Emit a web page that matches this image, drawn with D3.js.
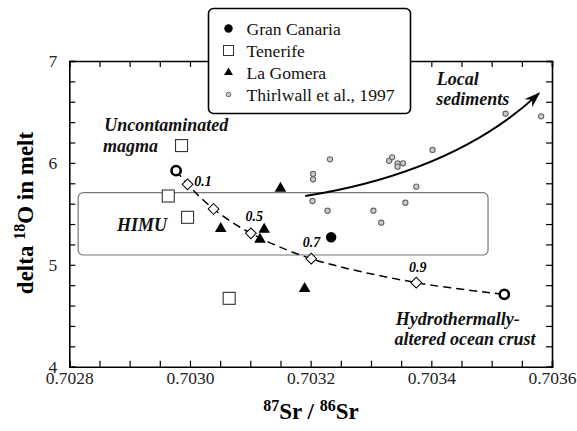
<!DOCTYPE html>
<html lang="en">
<head>
    <meta charset="UTF-8">
    <title>delta 18O vs 87Sr/86Sr</title>
    <style>
        body { margin: 0; background: #fff; }
    </style>
</head>
<body>
    <script src="https://cdnjs.cloudflare.com/ajax/libs/d3/7.8.2/d3.min.js"></script>
    <script>

        // data
        const granCanaria = [
            {sr : 0.703234, o : 5.27}
        ]
        const tenerife = [
            {sr : 0.702986, o : 6.17},
            {sr : 0.702964, o : 5.675},
            {sr : 0.702996, o : 5.466},
            {sr : 0.703065, o : 4.671}
        ]
        const laGomera = [
            {sr : 0.703150, o : 5.75},
            {sr : 0.703051, o : 5.355},
            {sr : 0.703123, o : 5.348},
            {sr : 0.703116, o : 5.25},
            {sr : 0.703190, o : 4.766}
        ]
        const thirlwall = [
            {sr : 0.703204, o : 5.891},
            {sr : 0.703204, o : 5.839},
            {sr : 0.703232, o : 6.035},
            {sr : 0.703203, o : 5.626},
            {sr : 0.703228, o : 5.531},
            {sr : 0.703304, o : 5.531},
            {sr : 0.703317, o : 5.413},
            {sr : 0.703357, o : 5.609},
            {sr : 0.703375, o : 5.767},
            {sr : 0.703402, o : 6.127},
            {sr : 0.703330, o : 6.02},
            {sr : 0.703335, o : 6.055},
            {sr : 0.703344, o : 5.996},
            {sr : 0.703344, o : 5.963},
            {sr : 0.703353, o : 5.996},
            {sr : 0.703523, o : 6.483},
            {sr : 0.703582, o : 6.457}
        ]
        // mixing curve: end-members and mixing steps
        const endMembers = [
            {sr : 0.702977, o : 5.924},
            {sr : 0.703521, o : 4.710}
        ]
        const mixFractions = [0.1, 0.3, 0.5, 0.7, 0.9]
        const mixSr = [0.702996, 0.703039, 0.703101, 0.703201, 0.703375]
        const mixO = [5.79, 5.548, 5.309, 5.06, 4.825]
        const mixLabels = ["0.1", "", "0.5", "0.7", "0.9"]
        const mixLabelPos = [
            {sr : 0.703007, o : 5.773},
            null,
            {sr : 0.703092, o : 5.433},
            {sr : 0.703187, o : 5.172},
            {sr : 0.703363, o : 4.932}
        ]
        // HIMU field and sediment arrow
        const himu = {sr0 : 0.7028147, sr1 : 0.703494, o0 : 5.096, o1 : 5.708}
        const sedArrow = [
            {sr : 0.703191, o : 5.675},
            {sr : 0.703439, o : 5.911},
            {sr : 0.703578, o : 6.68}
        ]

        const xTickMajor = [0.7028, 0.7030, 0.7032, 0.7034, 0.7036]
        const yTickMajor = [4, 5, 6, 7]

        const legendItems = ["Gran Canaria", "Tenerife", "La Gomera", "Thirlwall et al., 1997"]

        const serif = '"Liberation Serif"'

        const w = 577
        const h = 431

        const svg = d3.select("body")
            .append("svg")
                .attr("width", w)
                .attr("height", h)

        const x = d3.scaleLinear()
            .domain([0.7028, 0.7036])
            .range([69.3, 552])

        const y = d3.scaleLinear()
            .domain([4, 7])
            .range([366.7, 61])

        const xTicks = d3.range(0, 17).map(i => 0.7028 + i * 0.00005)
        const yTicks = d3.range(0, 16).map(i => 4 + i * 0.2)

        const isMajorX = v => xTickMajor.some(m => Math.abs(m - v) < 1e-8)
        const isMajorY = v => yTickMajor.some(m => Math.abs(m - v) < 1e-8)

        // axes, ticks pointing inward on all four sides
        svg.append("g")
            .attr("transform", `translate(0,${y(4)})`)
            .call(d3.axisBottom(x).tickValues(xTicks).tickSize(-6).tickPadding(5)
                .tickFormat(d => isMajorX(d) ? d3.format(".4f")(d) : ""))
        svg.append("g")
            .attr("transform", `translate(0,${y(7)})`)
            .call(d3.axisTop(x).tickValues(xTicks).tickSize(-6).tickFormat(""))
        svg.append("g")
            .attr("transform", `translate(${x(0.7028)},0)`)
            .call(d3.axisLeft(y).tickValues(yTicks).tickSize(-6).tickPadding(12)
                .tickFormat(d => isMajorY(d) ? d3.format("d")(d) : ""))
        svg.append("g")
            .attr("transform", `translate(${x(0.7036)},0)`)
            .call(d3.axisRight(y).tickValues(yTicks).tickSize(-6).tickFormat(""))

        svg.selectAll(".domain").attr("stroke", "#000").attr("stroke-width", 1.6)
        svg.selectAll(".tick line").attr("stroke", "#000").attr("stroke-width", 1.2)
        svg.selectAll(".tick text")
            .style("font-family", serif)
            .attr("font-size", 17.5)
            .attr("fill", "#222")

        // HIMU field
        svg.append("rect")
            .attr("x", x(himu.sr0))
            .attr("y", y(himu.o1))
            .attr("width", x(himu.sr1) - x(himu.sr0))
            .attr("height", y(himu.o0) - y(himu.o1))
            .attr("rx", 5)
            .attr("fill", "none")
            .attr("stroke", "#777")
            .attr("stroke-width", 1.2)

        // arrow marker
        svg.append("defs").append("marker")
            .attr("id", "arr")
            .attr("viewBox", "0 -6 16 12")
            .attr("refX", 14)
            .attr("refY", 0)
            .attr("markerWidth", 16)
            .attr("markerHeight", 12)
            .attr("markerUnits", "userSpaceOnUse")
            .attr("orient", "auto")
            .append("path")
                .attr("d", "M0,-5.5 L16,0 L0,5.5 L5,0 Z")
                .attr("fill", "#000")

        const pa = sedArrow.map(d => [x(d.sr), y(d.o)])
        svg.append("path")
            .attr("d", `M${pa[0]} Q${pa[1]} ${pa[2]}`)
            .attr("fill", "none")
            .attr("stroke", "#000")
            .attr("stroke-width", 2)
            .attr("marker-end", "url(#arr)")

        // mixing curve
        const mixPts = [endMembers[0]]
            .concat(mixSr.map((s, i) => ({sr : s, o : mixO[i]})))
            .concat([endMembers[1]])

        svg.append("path")
            .datum(mixPts)
            .attr("d", d3.line().x(d => x(d.sr)).y(d => y(d.o)).curve(d3.curveCatmullRom))
            .attr("fill", "none")
            .attr("stroke", "#000")
            .attr("stroke-width", 1.5)
            .attr("stroke-dasharray", "8,5")

        // Thirlwall et al.
        svg.selectAll(".thirl")
            .data(thirlwall)
            .enter()
            .append("circle")
                .attr("class", "thirl")
                .attr("cx", d => x(d.sr))
                .attr("cy", d => y(d.o))
                .attr("r", 2.6)
                .attr("fill", "#ccc")
                .attr("stroke", "#666")
                .attr("stroke-width", 1.1)

        const tri = d3.symbol().type(d3.symbolTriangle)

        svg.selectAll(".gom")
            .data(laGomera)
            .enter()
            .append("path")
                .attr("class", "gom")
                .attr("transform", d => `translate(${x(d.sr)},${y(d.o)})`)
                .attr("d", tri.size(58))
                .attr("fill", "#000")

        svg.selectAll(".ten")
            .data(tenerife)
            .enter()
            .append("rect")
                .attr("class", "ten")
                .attr("x", d => x(d.sr) - 6)
                .attr("y", d => y(d.o) - 6)
                .attr("width", 12)
                .attr("height", 12)
                .attr("fill", "#fff")
                .attr("stroke", "#333")
                .attr("stroke-width", 1.1)

        svg.selectAll(".gc")
            .data(granCanaria)
            .enter()
            .append("circle")
                .attr("class", "gc")
                .attr("cx", d => x(d.sr))
                .attr("cy", d => y(d.o))
                .attr("r", 5.2)
                .attr("fill", "#000")

        // diamonds for mixing steps
        svg.selectAll(".mix")
            .data(mixSr)
            .enter()
            .append("path")
                .attr("class", "mix")
                .attr("transform", (d, i) => `translate(${x(d)},${y(mixO[i])}) rotate(45)`)
                .attr("d", "M-3.8,-3.8 H3.8 V3.8 H-3.8 Z")
                .attr("fill", "#fff")
                .attr("stroke", "#000")
                .attr("stroke-width", 1)

        const mixLab = mixLabels
            .map((t, i) => ({t : t, p : mixLabelPos[i]}))
            .filter(d => d.p != null)

        svg.selectAll(".mixlab")
            .data(mixLab)
            .enter()
            .append("text")
                .attr("x", d => x(d.p.sr))
                .attr("y", d => y(d.p.o))
                .style("font-family", serif)
                .attr("font-size", 14)
                .attr("font-weight", "bold")
                .attr("font-style", "italic")
                .text(d => d.t)

        // end-members
        svg.selectAll(".end")
            .data(endMembers)
            .enter()
            .append("circle")
                .attr("class", "end")
                .attr("cx", d => x(d.sr))
                .attr("cy", d => y(d.o))
                .attr("r", 4.6)
                .attr("fill", "#fff")
                .attr("stroke", "#000")
                .attr("stroke-width", 2.6)

        // annotations
        const notes = [
            {t : "Uncontaminated", sr : 0.702858, o : 6.31},
            {t : "magma", sr : 0.702856, o : 6.107},
            {t : "HIMU", sr : 0.702879, o : 5.332},
            {t : "Local", sr : 0.703409, o : 6.764},
            {t : "sediments", sr : 0.703408, o : 6.568},
            {t : "Hydrothermally-", sr : 0.703341, o : 4.409},
            {t : "altered ocean crust", sr : 0.703339, o : 4.213}
        ]
        svg.selectAll(".note")
            .data(notes)
            .enter()
            .append("text")
                .attr("x", d => x(d.sr))
                .attr("y", d => y(d.o))
                .style("font-family", serif)
                .attr("font-size", 18)
                .attr("font-weight", "bold")
                .attr("font-style", "italic")
                .attr("fill", "#111")
                .text(d => d.t)

        // legend
        const lg = svg.append("g").attr("transform", "translate(208.5,8.5)")
        lg.append("rect")
            .attr("width", 202)
            .attr("height", 105)
            .attr("rx", 5)
            .attr("fill", "#fff")
            .attr("stroke", "#000")
            .attr("stroke-width", 1.6)

        const row = d3.scaleLinear().domain([0, 3]).range([20, 86])
        lg.append("circle").attr("cx", 20).attr("cy", row(0)).attr("r", 4.2).attr("fill", "#000")
        lg.append("rect").attr("x", 15).attr("y", row(1) - 5).attr("width", 10).attr("height", 10)
            .attr("fill", "#fff").attr("stroke", "#333").attr("stroke-width", 1)
        lg.append("path").attr("transform", `translate(20,${row(2)})`).attr("d", tri.size(34)).attr("fill", "#000")
        lg.append("circle").attr("cx", 20).attr("cy", row(3)).attr("r", 2.3)
            .attr("fill", "#ccc").attr("stroke", "#666").attr("stroke-width", 1)

        lg.selectAll(".lt")
            .data(legendItems)
            .enter()
            .append("text")
                .attr("x", 38)
                .attr("y", (d, i) => row(i))
                .attr("dy", "0.35em")
                .style("font-family", serif)
                .attr("font-size", 17.6)
                .attr("fill", "#111")
                .text(d => d)

        // axis titles
        const xt = svg.append("text")
            .attr("x", 311)
            .attr("y", 419)
            .attr("text-anchor", "middle")
            .style("font-family", serif)
            .attr("font-size", 23)
            .attr("font-weight", "bold")
        xt.append("tspan").attr("font-size", 16).attr("dy", -8).text("87")
        xt.append("tspan").attr("dy", 8).text("Sr / ")
        xt.append("tspan").attr("font-size", 16).attr("dy", -8).text("86")
        xt.append("tspan").attr("dy", 8).text("Sr")

        const yt = svg.append("text")
            .attr("transform", "translate(33,213) rotate(-90)")
            .attr("text-anchor", "middle")
            .style("font-family", serif)
            .attr("font-size", 23)
            .attr("font-weight", "bold")
        yt.append("tspan").text("delta ")
        yt.append("tspan").attr("font-size", 16).attr("dy", -8).text("18")
        yt.append("tspan").attr("dy", 8).text("O in melt")

    </script>
</body>
</html>
